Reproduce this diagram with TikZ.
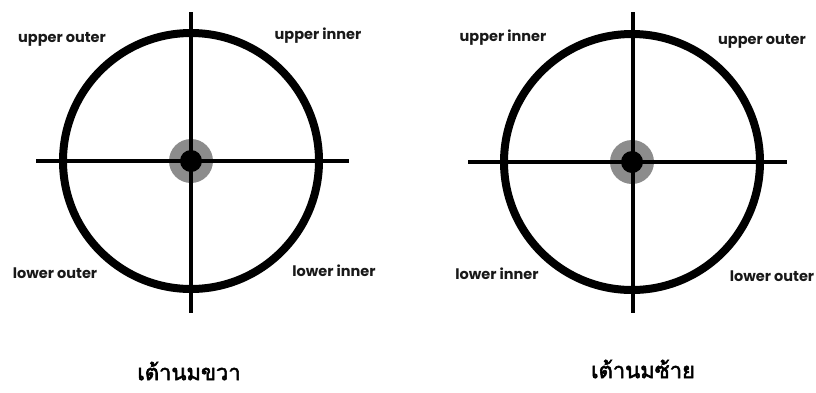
\documentclass[tikz,border=0pt]{standalone}
\usepackage{fontspec}
\setmainfont{Poppins}
\newfontfamily\thaifont[Script=Thai,FakeBold=2.5]{Loma}
\usetikzlibrary{positioning}

\begin{document}
\begin{tikzpicture}[
  x=1pt, y=-1pt,
  ring/.style={line width=8pt, draw=black},
  cross/.style={line width=4pt, draw=black},
  halo/.style={circle, fill=black!45, minimum size=44pt, inner sep=0pt},
  nipple/.style={circle, fill=black, minimum size=22pt, inner sep=0pt},
  quad/.style={font=\bfseries\fontsize{14.5}{16}\selectfont, text=black!90, inner sep=0pt},
  title/.style={font=\thaifont\fontsize{22}{26}\selectfont, inner sep=0pt},
]
\useasboundingbox (0,0) rectangle (816,392);
% right breast
\coordinate (rc) at (191,161);
\node[halo] (rhalo) at (rc) {};
\draw[ring] (rc) circle (128);
\draw[cross] (36,161) -- (349,161);
\draw[cross] (191,12) -- (191,313);
\node[nipple] (rdot) at (rc) {};
\node[quad] (ruo) at (62,39)  {upper outer};
\node[quad] (rui) at (318,36) {upper inner};
\node[quad] (rlo) at (55,273) {lower outer};
\node[quad] (rli) at (334,271){lower inner};
\node[title] (rname) at (189,371) {เต้านมขวา};
% left breast
\coordinate (lc) at (632,162);
\node[halo] (lhalo) at (lc) {};
\draw[ring] (lc) circle (128);
\draw[cross] (468,162) -- (787,162);
\draw[cross] (633,12) -- (633,313);
\node[nipple] (ldot) at (lc) {};
\node[quad] (lui) at (503,38) {upper inner};
\node[quad] (luo) at (762,41) {upper outer};
\node[quad] (lli) at (497,274){lower inner};
\node[quad] (llo) at (772,276){lower outer};
\node[title] (lname) at (643,369) {เต้านมซ้าย};
\end{tikzpicture}
\end{document}
